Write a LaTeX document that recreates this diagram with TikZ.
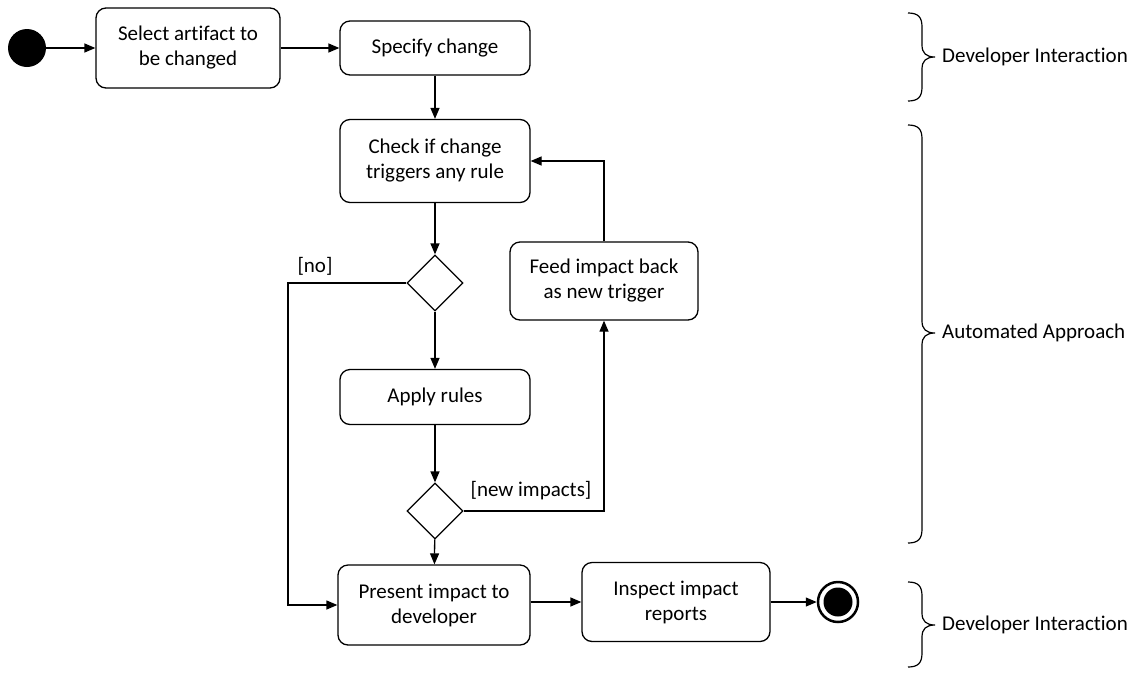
\documentclass[tikz,border=0pt]{standalone}
\usepackage{fontspec}
\setmainfont[Ligatures=NoCommon]{Carlito}
\usetikzlibrary{arrows.meta,shapes.geometric}
\begin{document}
\begin{tikzpicture}[x=1pt,y=-1pt,
  txt/.style={font=\fontsize{21}{25}\selectfont},
  act/.style={txt,draw,line width=1.3pt,rounded corners=10pt,align=center,inner sep=0pt},
  decision/.style={draw,diamond,line width=1.3pt,minimum width=56pt,minimum height=56pt,inner sep=0pt},
  flow/.style={line width=1.3pt,-{Triangle[length=11pt,width=9pt]}},
  bracket/.style={line width=1.2pt},
  note/.style={txt,anchor=west,inner sep=0pt}]
\useasboundingbox (0,0) rectangle (1137,673);

% activity nodes
\node[circle,fill=black,minimum size=38pt,inner sep=0pt] (start) at (27,48) {};
\node[act,minimum width=184pt,minimum height=80pt] (select) at (188,48) {Select artifact to\\be changed};
\node[act,minimum width=190pt,minimum height=54pt] (specify) at (435,48) {Specify change};
\node[act,minimum width=190pt,minimum height=83pt] (check) at (435,161) {Check if change\\triggers any rule};
\node[decision] (d1) at (435,283) {};
\node[act,minimum width=188pt,minimum height=78pt] (feed) at (604,281) {Feed impact back\\as new trigger};
\node[act,minimum width=190pt,minimum height=55pt] (apply) at (435,397) {Apply rules};
\node[decision] (d2) at (435,511) {};
\node[act,minimum width=192pt,minimum height=80pt] (present) at (434,605) {Present impact to\\developer};
\node[act,minimum width=188pt,minimum height=79pt] (inspect) at (676,602) {Inspect impact\\reports};
\node[circle,draw,line width=2.5pt,minimum size=40pt,inner sep=0pt] (final) at (838,602) {};
\node[circle,fill=black,minimum size=29pt,inner sep=0pt] (finaldot) at (final.center) {};

% guard labels
\node[txt,inner sep=0pt] (nolabel) at (315,266) {[no]};
\node[txt,inner sep=0pt] (newlabel) at (531,491) {[new impacts]};
\coordinate (nocorner) at (288,283);

% control flow
\draw[flow] (start) -- (select);
\draw[flow] (select.east |- specify.west) -- (specify.west);
\draw[flow] (specify) -- (check);
\draw[flow] (check) -- (d1);
\draw[flow] (d1) -- (apply);
\draw[flow] (apply) -- (d2);
\draw[flow] (d2) -- (present);
\draw[flow] (d1.west) -- (nocorner) |- (present.west);
\draw[flow] (d2.east) -| (feed.south);
\draw[flow] (feed.north) |- (check.east);
\draw[flow] (present.east |- inspect.west) -- (inspect.west);
\draw[flow] (inspect.east) -- (final.west);

% phase brackets
\coordinate (tipA) at (935,57);
\coordinate (tipB) at (935,333);
\coordinate (tipC) at (935,625);
\draw[bracket] (908,13) .. controls (918,13) and (922,17) .. (922,27) -- (922,45)
  .. controls (922,53) and (926,57) .. (tipA) .. controls (926,57) and (922,61) .. (922,69)
  -- (922,87) .. controls (922,97) and (918,101) .. (908,101);
\draw[bracket] (908,125) .. controls (918,125) and (922,129) .. (922,139) -- (922,321)
  .. controls (922,329) and (926,333) .. (tipB) .. controls (926,333) and (922,337) .. (922,345)
  -- (922,529) .. controls (922,539) and (918,543) .. (908,543);
\draw[bracket] (908,582) .. controls (918,582) and (922,586) .. (922,596) -- (922,613)
  .. controls (922,621) and (926,625) .. (tipC) .. controls (926,625) and (922,629) .. (922,637)
  -- (922,653) .. controls (922,663) and (918,667) .. (908,667);
\node[note] (phaseA) at ([xshift=7pt]tipA) {Developer Interaction};
\node[note] (phaseB) at ([xshift=7pt]tipB) {Automated Approach};
\node[note] (phaseC) at ([xshift=7pt]tipC) {Developer Interaction};
\end{tikzpicture}
\end{document}
